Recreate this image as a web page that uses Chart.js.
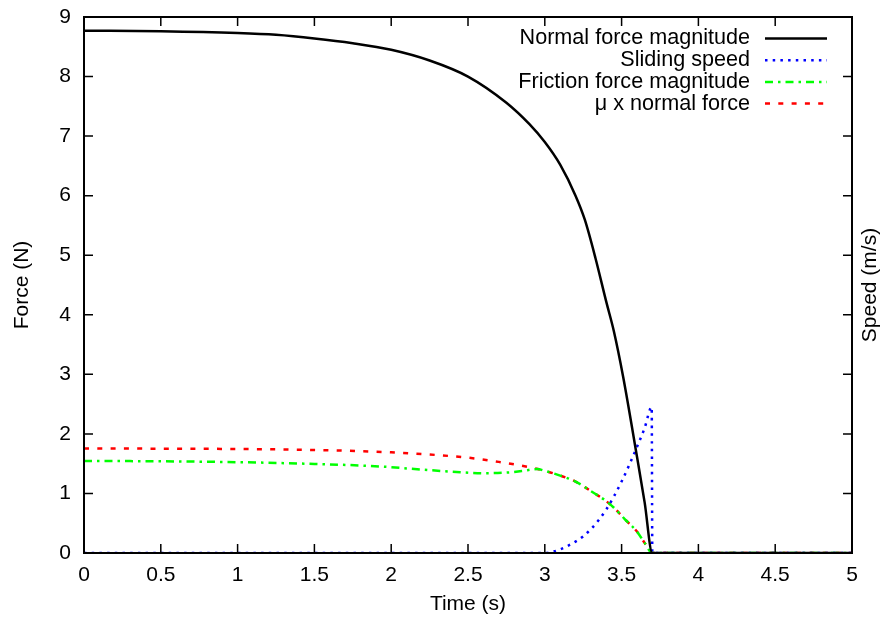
<!DOCTYPE html>
<html>
<head>
<meta charset="utf-8">
<script src="https://cdn.jsdelivr.net/npm/chart.js@4/dist/chart.umd.min.js"></script>
<style>
  html, body { margin: 0; padding: 0; background: #fff; }
  #wrap { width: 888px; height: 622px; position: relative; }
</style>
</head>
<body>
<div id="wrap"><canvas id="c" width="888" height="622"></canvas></div>
<script>
// ---- data ----
const xTicks = [0, 0.5, 1, 1.5, 2, 2.5, 3, 3.5, 4, 4.5, 5];
const yTicks = [0, 1, 2, 3, 4, 5, 6, 7, 8, 9];

const seriesLabels = ["Normal force magnitude", "Sliding speed", "Friction force magnitude", "\u03bc x normal force"];

const timeNormal  = [0, 0.5, 1.0, 1.25, 1.5, 1.75, 2.0, 2.25, 2.5, 2.75, 2.9, 3.0, 3.1, 3.2, 3.26, 3.33, 3.4, 3.45, 3.51, 3.6, 3.65, 3.70, 5];
const normalForce = [8.77, 8.76, 8.73, 8.70, 8.64, 8.56, 8.45, 8.27, 8.00, 7.56, 7.20, 6.90, 6.52, 6.00, 5.60, 4.95, 4.22, 3.72, 2.96, 1.62, 0.85, 0, 0];

const timeSpeed    = [0, 3.0, 3.05, 3.1, 3.15, 3.2, 3.25, 3.3, 3.35, 3.4, 3.45, 3.5, 3.55, 3.6, 3.65, 3.696, 3.70, 5];
const slidingSpeed = [0, 0, 0.02, 0.06, 0.12, 0.19, 0.28, 0.40, 0.55, 0.73, 0.95, 1.20, 1.48, 1.78, 2.10, 2.45, 0, 0];

const timeFriction  = [0, 0.5, 1.0, 1.5, 1.95, 2.2, 2.4, 2.6, 2.75, 2.85, 2.95, 3.0, 3.1, 3.2, 3.3, 3.4, 3.45, 3.52, 3.6, 3.65, 3.70, 5];
const frictionForce = [1.545, 1.54, 1.525, 1.495, 1.45, 1.40, 1.365, 1.34, 1.35, 1.375, 1.41, 1.38, 1.30, 1.20, 1.04, 0.87, 0.76, 0.57, 0.36, 0.17, 0, 0];

const timeMu   = [0, 0.5, 1.0, 1.5, 2.0, 2.5, 2.7, 2.9, 3.0, 3.1, 3.2, 3.3, 3.4, 3.45, 3.52, 3.6, 3.65, 3.70, 5];
const muNormal = [1.754, 1.752, 1.746, 1.73, 1.69, 1.60, 1.53, 1.44, 1.38, 1.30, 1.20, 1.04, 0.87, 0.76, 0.57, 0.36, 0.17, 0, 0];

function pts(xs, ys) { return xs.map((x, i) => ({ x: x, y: ys[i] })); }

const FONT = "'Liberation Sans', Arial, Helvetica, sans-serif";
Chart.defaults.font.family = FONT;
Chart.defaults.font.size = 21;
Chart.defaults.color = '#000';

const framePlugin = {
  id: 'frame',
  afterDatasetsDraw(chart) {
    const ctx = chart.ctx, a = chart.chartArea;
    const xs = chart.scales.x, ys = chart.scales.y;
    ctx.save();
    ctx.strokeStyle = '#000';
    ctx.lineWidth = 2;
    ctx.strokeRect(a.left, a.top, a.right - a.left, a.bottom - a.top);
    const L = 9;
    ctx.lineWidth = 1.5;
    ctx.beginPath();
    xTicks.forEach(v => {
      const px = xs.getPixelForValue(v);
      ctx.moveTo(px, a.bottom); ctx.lineTo(px, a.bottom - L);
      ctx.moveTo(px, a.top); ctx.lineTo(px, a.top + L);
    });
    yTicks.forEach(v => {
      const py = ys.getPixelForValue(v);
      ctx.moveTo(a.left, py); ctx.lineTo(a.left + L, py);
      ctx.moveTo(a.right, py); ctx.lineTo(a.right - L, py);
    });
    ctx.stroke();
    ctx.restore();
  },
  afterDraw(chart) {
    const ctx = chart.ctx, a = chart.chartArea;
    ctx.save();
    ctx.font = "21px " + FONT;
    ctx.fillStyle = '#000';
    // right axis title (reads bottom to top)
    ctx.translate(870, (a.top + a.bottom) / 2);
    ctx.rotate(-Math.PI / 2);
    ctx.textAlign = 'center';
    ctx.textBaseline = 'middle';
    ctx.fillText('Speed (m/s)', 0, 0);
    ctx.restore();

    // legend
    ctx.save();
    ctx.font = "21.6px " + FONT;
    ctx.textAlign = 'right';
    ctx.textBaseline = 'middle';
    const textRight = 750, s0 = 765, s1 = 827, y0 = 38.5, dy = 21.7;
    chart.data.datasets.forEach((ds, i) => {
      const y = y0 + i * dy;
      ctx.fillStyle = '#000';
      ctx.fillText(ds.label, textRight, y);
      ctx.strokeStyle = ds.borderColor;
      ctx.lineWidth = ds.borderWidth;
      ctx.setLineDash(ds.borderDash || []);
      ctx.beginPath();
      ctx.moveTo(s0, y); ctx.lineTo(s1, y);
      ctx.stroke();
    });
    ctx.restore();
  }
};

new Chart(document.getElementById('c'), {
  type: 'line',
  data: {
    datasets: [
      { label: seriesLabels[0], data: pts(timeNormal, normalForce), borderColor: '#000000', borderWidth: 2.5, borderDash: [], yAxisID: 'y' },
      { label: seriesLabels[1], data: pts(timeSpeed, slidingSpeed), borderColor: '#0000ff', borderWidth: 2.5, borderDash: [2.5, 5.2], yAxisID: 'y2' },
      { label: seriesLabels[2], data: pts(timeFriction, frictionForce), borderColor: '#00ff00', borderWidth: 2.5, borderDash: [8, 5, 2.5, 5], yAxisID: 'y' },
      { label: seriesLabels[3], data: pts(timeMu, muNormal), borderColor: '#ff0000', borderWidth: 2.5, borderDash: [5, 8.3], yAxisID: 'y' }
    ]
  },
  options: {
    responsive: false,
    animation: false,
    events: [],
    layout: { padding: { top: 17, left: 0, right: 0, bottom: 0 } },
    elements: {
      point: { radius: 0 },
      line: { tension: 0, cubicInterpolationMode: 'monotone', fill: false }
    },
    plugins: { legend: { display: false }, tooltip: { enabled: false } },
    scales: {
      x: {
        type: 'linear', min: 0, max: 5,
        afterBuildTicks: s => { s.ticks = xTicks.map(v => ({ value: v })); },
        ticks: { padding: 10, maxRotation: 0, autoSkip: false, callback: v => String(v) },
        grid: { display: false, drawTicks: false },
        border: { display: false },
        title: { display: true, text: 'Time (s)', padding: { top: 0, bottom: 5 } },
        afterFit: s => { s.height = 69; s.paddingLeft = 0; s.paddingRight = 0; }
      },
      y: {
        type: 'linear', position: 'left', min: 0, max: 9,
        afterBuildTicks: s => { s.ticks = yTicks.map(v => ({ value: v })); },
        ticks: { padding: 13, callback: v => String(v) },
        grid: { display: false, drawTicks: false },
        border: { display: false },
        title: { display: true, text: 'Force (N)', padding: { top: 10, bottom: 0 } },
        afterFit: s => { s.width = 84; s.paddingTop = 0; s.paddingBottom = 0; }
      },
      y2: {
        type: 'linear', position: 'right', min: 0, max: 9,
        ticks: { display: false },
        grid: { display: false, drawTicks: false },
        border: { display: false },
        afterFit: s => { s.width = 36; s.paddingTop = 0; s.paddingBottom = 0; }
      }
    }
  },
  plugins: [framePlugin]
});
</script>
</body>
</html>
